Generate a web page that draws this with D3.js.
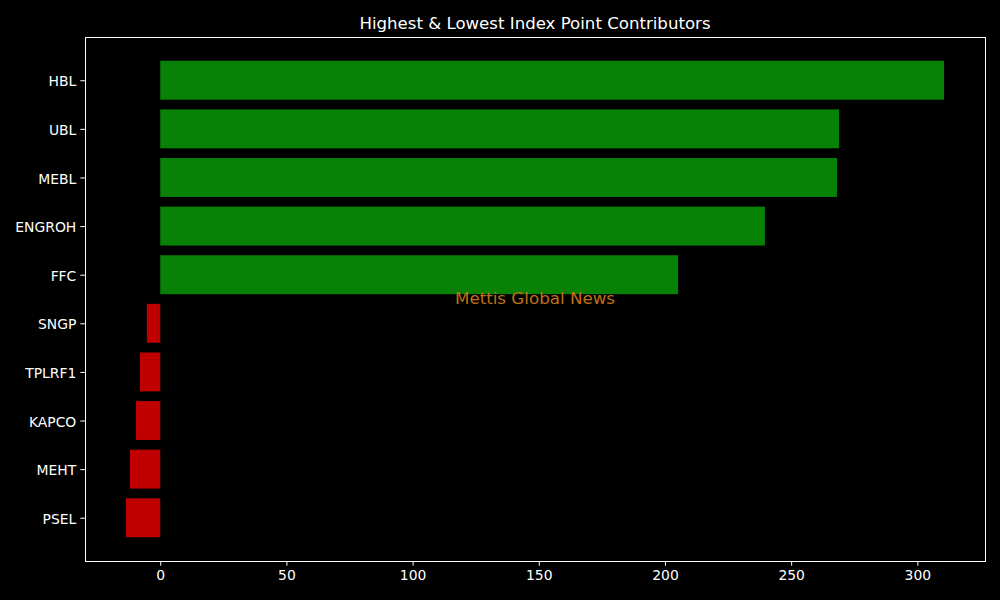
<!DOCTYPE html>
<html>
<head>
<meta charset="utf-8">
<script src="https://cdn.jsdelivr.net/npm/d3@7"></script>
<style>
  html, body { margin: 0; padding: 0; background: #000; }
  svg { display: block; }
</style>
</head>
<body>
<svg id="chart" width="1000" height="600"></svg>
<script>
const categories = ["HBL", "UBL", "MEBL", "ENGROH", "FFC", "SNGP", "TPLRF1", "KAPCO", "MEHT", "PSEL"];
const values = [310.6, 269.0, 268.2, 239.6, 205.2, -5.3, -8.0, -9.6, -12.0, -13.6];
const xTicks = [0, 50, 100, 150, 200, 250, 300];
const titleText = "Highest & Lowest Index Point Contributors";
const watermarkText = "Mettis Global News";

const W = 1000, H = 600;
const plot = { left: 85, right: 985, top: 37, bottom: 561 };
const font = "'DejaVu Sans', sans-serif";

const svg = d3.select("#chart");
svg.append("rect").attr("width", W).attr("height", H).attr("fill", "#000");

const vmin = Math.min(0, d3.min(values)), vmax = Math.max(0, d3.max(values));
const pad = (vmax - vmin) * 0.05;
const x = d3.scaleLinear().domain([vmin - pad, vmax + pad]).range([plot.left, plot.right]);

const n = categories.length;
const lo = -0.4, hi = n - 1 + 0.4, ym = (hi - lo) * 0.05;
const y = d3.scaleLinear().domain([lo - ym, hi + ym]).range([plot.top, plot.bottom]);

const g = svg.append("g");

g.selectAll("rect.bar").data(values).enter().append("rect")
  .attr("class", "bar")
  .attr("x", d => x(Math.min(0, d)))
  .attr("width", d => Math.abs(x(d) - x(0)))
  .attr("y", (d, i) => y(i - 0.4))
  .attr("height", (d, i) => y(i + 0.4) - y(i - 0.4))
  .attr("fill", d => d >= 0 ? "#078207" : "#c00000");

// watermark
svg.append("text")
  .attr("x", (plot.left + plot.right) / 2)
  .attr("y", (plot.top + plot.bottom) / 2 - 1.5)
  .attr("text-anchor", "middle")
  .attr("dominant-baseline", "central")
  .attr("font-family", font)
  .attr("font-size", 16.7)
  .attr("fill", "#bf6f16")
  .text(watermarkText);

// axes
const xAxis = d3.axisBottom(x).tickValues(xTicks).tickSize(4.7).tickPadding(4).tickFormat(d3.format("d"));
const xg = svg.append("g").attr("transform", `translate(0,${plot.bottom})`).call(xAxis);
xg.select(".domain").remove();
xg.selectAll("line").attr("stroke", "#fff").attr("stroke-width", 1);
xg.selectAll("text").attr("fill", "#fff").attr("font-family", font).attr("font-size", 13.9);

const yAxis = d3.axisLeft(y).tickValues(d3.range(n)).tickFormat(i => categories[i]).tickSize(4.7).tickPadding(4);
const yg = svg.append("g").attr("transform", `translate(${plot.left},0)`).call(yAxis);
yg.select(".domain").remove();
yg.selectAll("line").attr("stroke", "#fff").attr("stroke-width", 1);
yg.selectAll("text").attr("fill", "#fff").attr("font-family", font).attr("font-size", 13.9).attr("dy", "0.4em");

// frame
svg.append("rect")
  .attr("x", plot.left + 0.5).attr("y", plot.top + 0.5)
  .attr("width", plot.right - plot.left).attr("height", plot.bottom - plot.top)
  .attr("fill", "none").attr("stroke", "#fff").attr("stroke-width", 1);

// title
svg.append("text")
  .attr("x", (plot.left + plot.right) / 2)
  .attr("y", 29)
  .attr("text-anchor", "middle")
  .attr("font-family", font)
  .attr("font-size", 16.6)
  .attr("fill", "#fff")
  .text(titleText);
</script>
</body>
</html>
